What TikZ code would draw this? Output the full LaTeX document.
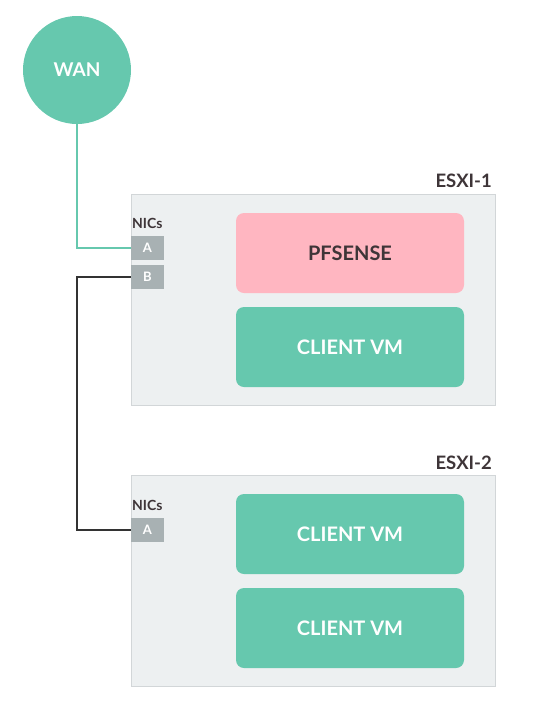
\documentclass[tikz,border=0pt]{standalone}
\usepackage{fontspec}
\setmainfont{Lato}
\usepackage{tikz}
\usetikzlibrary{positioning,calc}
\definecolor{NetGreen}{HTML}{66C8AE}
\definecolor{NetPink}{HTML}{FFB6C1}
\definecolor{NetText}{HTML}{3E3538}
\definecolor{NetHost}{HTML}{EDF0F1}
\definecolor{NetEdge}{HTML}{D2D6D8}
\definecolor{NetNic}{HTML}{A8B1B3}
\definecolor{NetWire}{HTML}{333333}

\begin{document}
\begin{tikzpicture}[x=1pt,y=-1pt,
  host/.style={draw=NetEdge,fill=NetHost,line width=1pt,minimum width=364pt,minimum height=211pt,inner sep=0pt},
  vm/.style={rounded corners=8pt,minimum width=228pt,minimum height=80pt,inner sep=0pt,font=\fontsize{20}{22}\selectfont\bfseries},
  nic/.style={fill=NetNic,minimum width=33pt,minimum height=24pt,inner sep=0pt,text=white,font=\fontsize{13}{15}\selectfont\bfseries},
  hostlabel/.style={anchor=east,inner sep=0pt,text=NetText,font=\fontsize{18.5}{20}\selectfont\bfseries},
  niclabel/.style={anchor=west,inner sep=0pt,text=NetText,font=\fontsize{14}{16}\selectfont\bfseries},
  wire/.style={line width=1.5pt},
]
\useasboundingbox (0,0) rectangle (540,724);
% WAN uplink
\node[circle,fill=NetGreen,minimum size=108pt,inner sep=0pt,text=white,font=\fontsize{19}{21}\selectfont\bfseries] (wan) at (77,70) {WAN};

% first host
\node[host] (esxi1) at (313,299.5) {};
\node[hostlabel] (esxi1lbl) at (492,181) {ESXI-1};
\node[niclabel] (nics1) at (132,223) {NICs};
\node[nic] (nica1) at (147.5,248) {A};
\node[nic] (nicb1) at (147.5,277) {B};
\node[vm,fill=NetPink,text=NetText] (pfsense) at (350,253) {PFSENSE};
\node[vm,fill=NetGreen,text=white] (client1) at (350,347) {CLIENT VM};

% second host
\node[host] (esxi2) at (313,580.5) {};
\node[hostlabel] (esxi2lbl) at (492,463) {ESXI-2};
\node[niclabel] (nics2) at (132,505) {NICs};
\node[nic] (nica2) at (147.5,530) {A};
\node[vm,fill=NetGreen,text=white] (client2) at (350,534) {CLIENT VM};
\node[vm,fill=NetGreen,text=white] (client3) at (350,628) {CLIENT VM};

% cabling
\draw[wire,NetGreen] (wan.south) |- (nica1.west);
\draw[wire,NetWire] (nicb1.west) -- (nicb1.west -| wan.south) |- (nica2.west);
\end{tikzpicture}
\end{document}
